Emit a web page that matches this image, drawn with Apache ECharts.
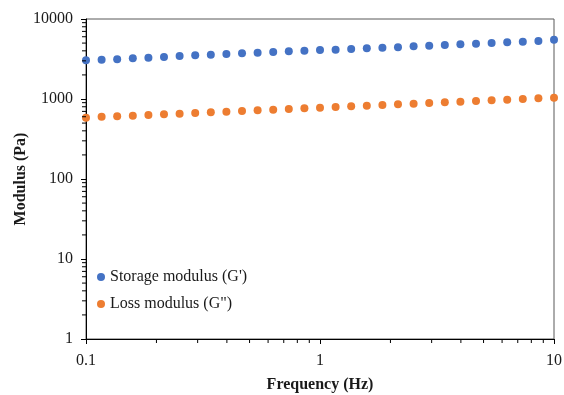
<!DOCTYPE html>
<html>
<head>
<meta charset="utf-8">
<script src="https://cdn.jsdelivr.net/npm/echarts@6/dist/echarts.min.js"></script>
<style>
  html, body { margin: 0; padding: 0; background: #fff; }
  #chart { width: 564px; height: 395px; }
</style>
</head>
<body>
<div id="chart"></div>
<script>
// frequency sweep, Hz
var freq = [0.1, 0.1166, 0.1359, 0.1585, 0.1848, 0.2154, 0.2512, 0.2929, 0.3415, 0.3981,
            0.4642, 0.5412, 0.631, 0.7356, 0.8577, 1, 1.166, 1.359, 1.585, 1.848,
            2.154, 2.512, 2.929, 3.415, 3.981, 4.642, 5.412, 6.31, 7.356, 8.577, 10];
// storage modulus G' (Pa)
var storage = [3048, 3100, 3135, 3227, 3283, 3350, 3447, 3517, 3580, 3652,
               3726, 3793, 3868, 3946, 4017, 4097, 4130, 4217, 4302, 4380,
               4427, 4557, 4640, 4732, 4827, 4914, 5012, 5113, 5205, 5309, 5510];
// loss modulus G" (Pa)
var loss = [583, 601, 608, 619, 631, 644, 655, 668, 682, 694,
            708, 722, 735, 750, 765, 778, 794, 810, 824, 841,
            858, 873, 891, 909, 925, 944, 963, 982, 1000, 1021, 1038];

// minor tick values (Excel style 2..9 per decade)
var xMinor = [0.2, 0.3, 0.4, 0.5, 0.6, 0.7, 0.8, 0.9, 2, 3, 4, 5, 6, 7, 8, 9];
var yMinor = [2, 3, 4, 5, 6, 7, 8, 9, 20, 30, 40, 50, 60, 70, 80, 90,
              200, 300, 400, 500, 600, 700, 800, 900, 2000, 3000, 4000, 5000,
              6000, 7000, 8000, 9000];

var X_MIN = 0.1, X_MAX = 10, Y_MIN = 1, Y_MAX = 10000;
var FONT = 'Liberation Serif';
var ink = '#1a1a1a';
var TICK = 4;

function zip(xs, ys) {
  return xs.map(function (x, i) { return [x, ys[i]]; });
}

// small tick marks drawn through the axes' own log scales
function minorTicks(vals, dim) {
  var data = vals.map(function (v) {
    return dim === 'x' ? [v, Y_MIN] : [X_MIN, v];
  });
  return {
    type: 'custom',
    silent: true,
    clip: false,
    z: 3,
    data: data,
    renderItem: function (params, api) {
      var p = api.coord([api.value(0), api.value(1)]);
      var shape = dim === 'x'
        ? { x1: p[0], y1: p[1], x2: p[0], y2: p[1] + TICK }
        : { x1: p[0] - TICK, y1: p[1], x2: p[0], y2: p[1] };
      return { type: 'line', shape: shape, style: { stroke: '#000', lineWidth: 1 } };
    }
  };
}

var chart = echarts.init(document.getElementById('chart'));

var option = {
  animation: false,
  grid: {
    left: 86, right: 10, top: 19, bottom: 56,
    outerBoundsMode: 'none',
    containLabel: false,
    show: true,
    borderColor: '#595959',
    borderWidth: 1
  },
  legend: {
    orient: 'vertical',
    left: 92,
    top: 264,
    itemWidth: 8,
    itemHeight: 8,
    itemGap: 11,
    icon: 'circle',
    textStyle: { fontFamily: FONT, fontSize: 16, color: ink },
    data: ["Storage modulus (G')", 'Loss modulus (G")']
  },
  xAxis: {
    type: 'log', logBase: 10, min: X_MIN, max: X_MAX,
    name: 'Frequency (Hz)',
    nameLocation: 'middle',
    nameGap: 38,
    nameMoveOverlap: false,
    nameTextStyle: { fontFamily: FONT, fontSize: 16, fontWeight: 'bold', color: ink },
    axisLine: { lineStyle: { color: '#000', width: 1 } },
    axisTick: { inside: false, length: 5, lineStyle: { color: '#000' } },
    axisLabel: {
      fontFamily: FONT, fontSize: 16, color: ink, margin: 14,
      formatter: function (v) { return String(v); }
    },
    splitLine: { show: false }
  },
  yAxis: {
    type: 'log', logBase: 10, min: Y_MIN, max: Y_MAX,
    name: 'Modulus (Pa)',
    nameLocation: 'middle',
    nameGap: 57,
    nameMoveOverlap: false,
    nameTextStyle: { fontFamily: FONT, fontSize: 16, fontWeight: 'bold', color: ink },
    axisLine: { show: true, lineStyle: { color: '#000', width: 1 } },
    axisTick: { show: true, inside: false, length: 5, lineStyle: { color: '#000' } },
    axisLabel: {
      fontFamily: FONT, fontSize: 16, color: ink, margin: 13,
      formatter: function (v) { return String(v); }
    },
    splitLine: { show: false }
  },
  series: [{
    name: "Storage modulus (G')",
    type: 'scatter',
    symbolSize: 8,
    clip: false,
    itemStyle: { color: '#4472C4', opacity: 1 },
    data: zip(freq, storage)
  }, {
    name: 'Loss modulus (G")',
    type: 'scatter',
    symbolSize: 8,
    clip: false,
    itemStyle: { color: '#ED7D31', opacity: 1 },
    data: zip(freq, loss)
  },
  minorTicks(xMinor, 'x'),
  minorTicks(yMinor, 'y')]
};

chart.setOption(option);
</script>
</body>
</html>
